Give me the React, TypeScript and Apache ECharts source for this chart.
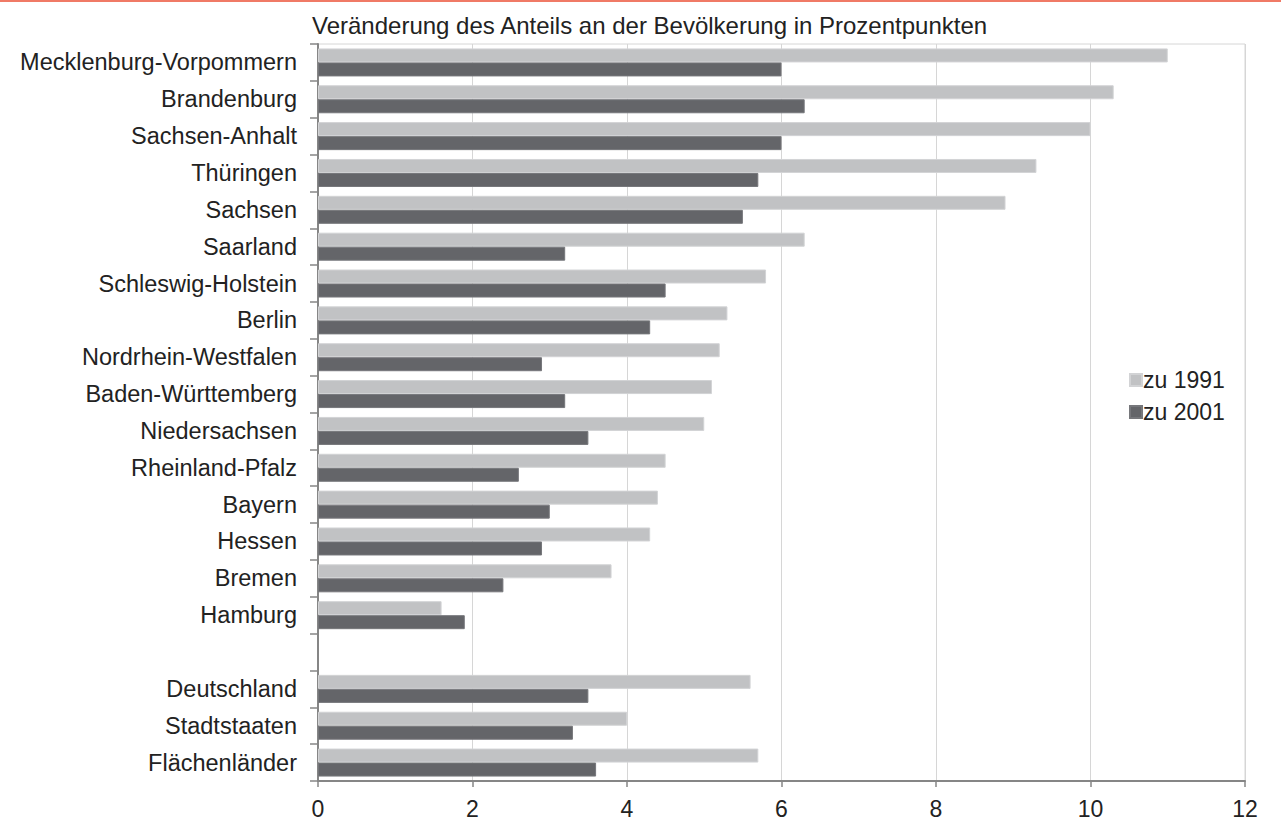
import React, { useEffect, useRef } from "react";
import * as echarts from "echarts";

const categories = [
  "Mecklenburg-Vorpommern",
  "Brandenburg",
  "Sachsen-Anhalt",
  "Thüringen",
  "Sachsen",
  "Saarland",
  "Schleswig-Holstein",
  "Berlin",
  "Nordrhein-Westfalen",
  "Baden-Württemberg",
  "Niedersachsen",
  "Rheinland-Pfalz",
  "Bayern",
  "Hessen",
  "Bremen",
  "Hamburg",
  "",
  "Deutschland",
  "Stadtstaaten",
  "Flächenländer",
];

const zu1991 = [11.0, 10.3, 10.0, 9.3, 8.9, 6.3, 5.8, 5.3, 5.2, 5.1, 5.0, 4.5, 4.4, 4.3, 3.8, 1.6, null, 5.6, 4.0, 5.7];
const zu2001 = [6.0, 6.3, 6.0, 5.7, 5.5, 3.2, 4.5, 4.3, 2.9, 3.2, 3.5, 2.6, 3.0, 2.9, 2.4, 1.9, null, 3.5, 3.3, 3.6];

const seriesNames = ["zu 1991", "zu 2001"];
const titleText = "Veränderung des Anteils an der Bevölkerung in Prozentpunkten";

export default function App() {
  const ref = useRef<HTMLDivElement>(null);
  useEffect(() => {
    document.body.style.margin = "0";
    if (!ref.current) return;
    const chart = echarts.init(ref.current, undefined, { renderer: "svg" });
    const font = "'Liberation Sans', Arial, sans-serif";
    chart.setOption({
      animation: false,
      textStyle: { fontFamily: font },
      title: {
        text: titleText,
        left: 307,
        top: 8,
        textStyle: { fontSize: 24, fontWeight: "normal", color: "#222", fontFamily: font },
      },
      graphic: [
        {
          type: "line",
          shape: { x1: 0, y1: 1, x2: 1281, y2: 1 },
          style: { stroke: "#f07a66", lineWidth: 2 },
        },
      ],
      legend: {
        orient: "vertical",
        left: 1124,
        top: 363,
        itemWidth: 12,
        itemHeight: 12,
        itemGap: 8,
        icon: "rect",
        textStyle: { fontSize: 23, color: "#222", fontFamily: font, padding: [0, 0, 0, -4], lineHeight: 24 },
        data: seriesNames,
      },
      grid: {
        left: 318,
        right: 36,
        top: 44,
        bottom: 49,
        show: true,
        borderColor: "#d6d6d6",
        borderWidth: 1,
      },
      xAxis: {
        type: "value",
        min: 0,
        max: 12,
        interval: 2,
        axisLine: { show: true, lineStyle: { color: "#868686", width: 2 } },
        axisTick: { show: true, length: 6, lineStyle: { color: "#868686", width: 1.5 } },
        axisLabel: { fontSize: 23, color: "#222", margin: 16, fontFamily: font },
        splitLine: { show: true, lineStyle: { color: "#d6d6d6", width: 1 } },
      },
      yAxis: {
        type: "category",
        inverse: true,
        data: categories,
        boundaryGap: true,
        axisLine: { show: true, lineStyle: { color: "#868686", width: 2 } },
        axisTick: { show: true, length: 8, interval: 0, lineStyle: { color: "#868686", width: 1.5 } },
        axisLabel: { fontSize: 23.5, color: "#222", margin: 21, interval: 0, fontFamily: font },
        splitLine: { show: false },
      },
      series: [
        {
          name: seriesNames[0],
          type: "bar",
          data: zu1991,
          barGap: "0%",
          barCategoryGap: "24%",
          itemStyle: { color: "#c1c2c4", borderColor: "#d2d3d5", borderWidth: 1 },
        },
        {
          name: seriesNames[1],
          type: "bar",
          data: zu2001,
          barGap: "0%",
          barCategoryGap: "24%",
          itemStyle: { color: "#646569", borderColor: "#76777b", borderWidth: 1 },
        },
      ],
    });
    return () => chart.dispose();
  }, []);
  return <div ref={ref} style={{ width: 1281, height: 830 }} />;
}
